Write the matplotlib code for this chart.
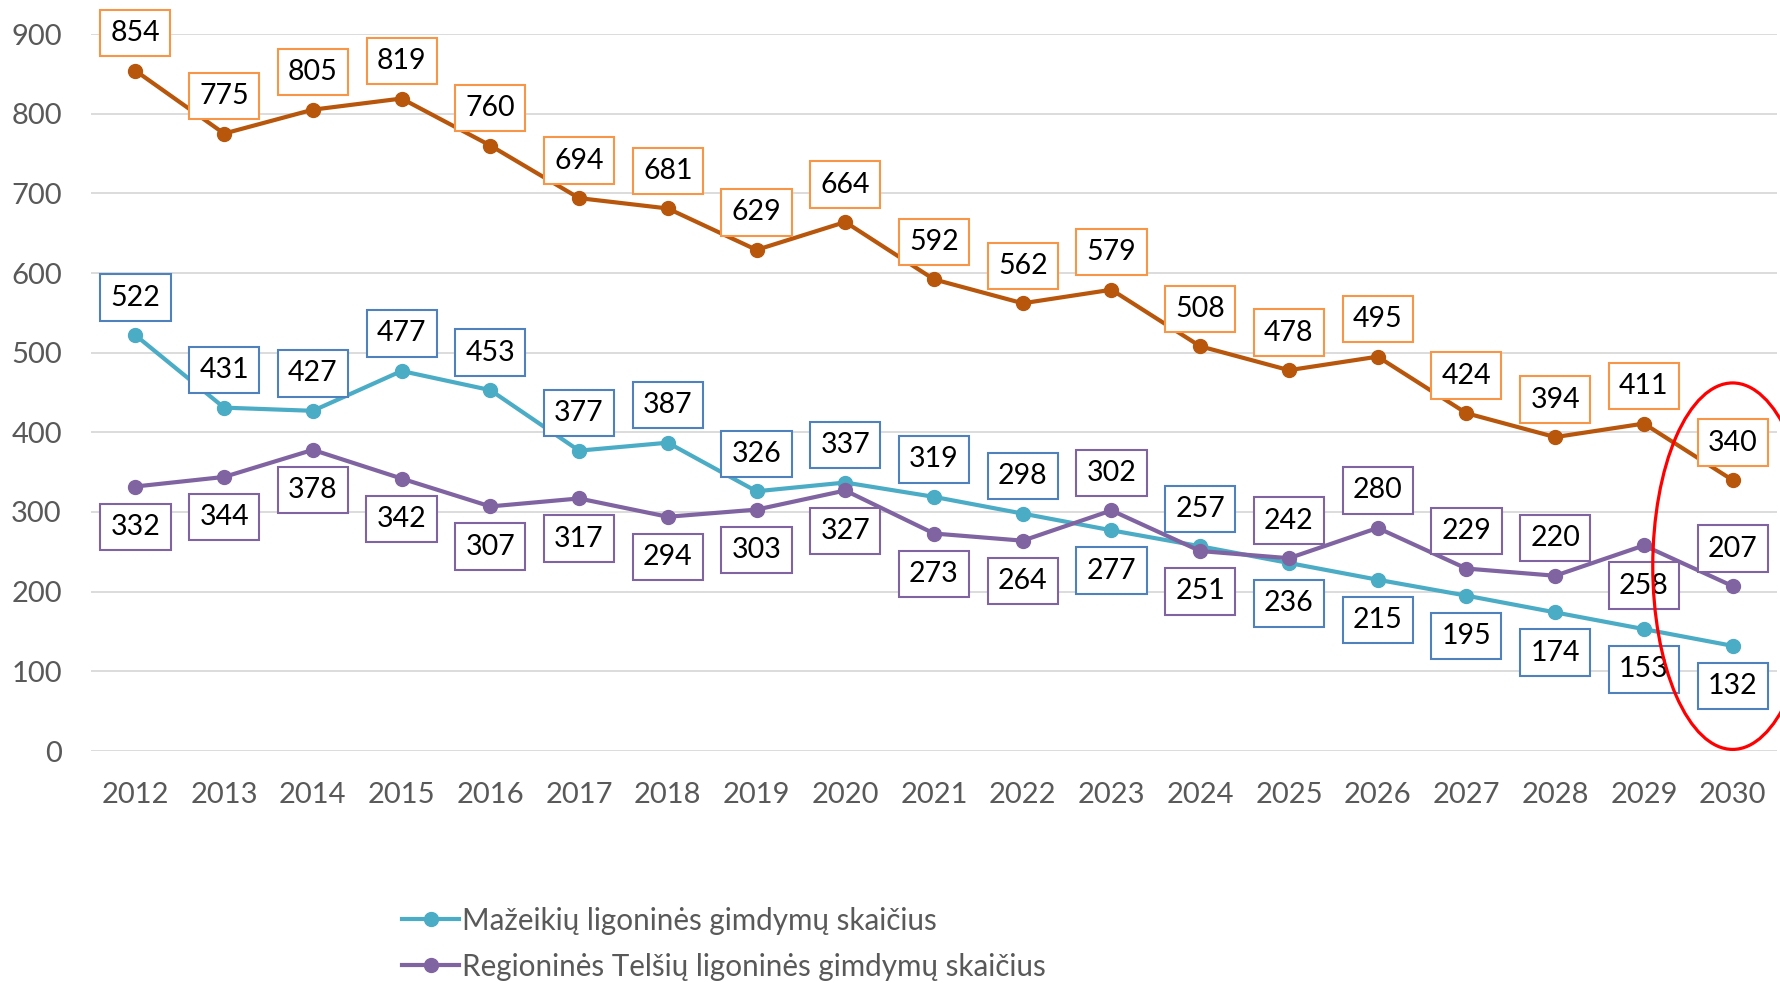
import matplotlib.pyplot as plt
from matplotlib.patches import Ellipse

plt.rcParams['font.family'] = ['Lato', 'DejaVu Sans']

years = [str(y) for y in range(2012, 2031)]
mazeikiai = [522, 431, 427, 477, 453, 377, 387, 326, 337, 319, 298, 277, 257, 236, 215, 195, 174, 153, 132]
telsiai = [332, 344, 378, 342, 307, 317, 294, 303, 327, 273, 264, 302, 251, 242, 280, 229, 220, 258, 207]
bendras = [854, 775, 805, 819, 760, 694, 681, 629, 664, 592, 562, 579, 508, 478, 495, 424, 394, 411, 340]

# where the data label sits: 1 above the point, -1 below
maz_pos = [1]*11 + [-1, 1] + [-1]*6
tel_pos = [-1]*11 + [1, -1, 1, 1, 1, 1, -1, 1]
ben_pos = [1]*19

labels = ['Mažeikių ligoninės gimdymų skaičius',
          'Regioninės Telšių ligoninės gimdymų skaičius']

c_maz = '#4BACC6'
c_tel = '#8064A2'
c_ben = '#B8560C'
grey = '#595959'

fig = plt.figure(figsize=(17.81, 9.83), dpi=100)
ax = fig.add_axes([91/1781, 1-751/983, 1-95/1781, (751-34)/983])

x = list(range(len(years)))
ax.plot(x, mazeikiai, color=c_maz, lw=3, marker='o', ms=10, label=labels[0], zorder=3)
ax.plot(x, telsiai, color=c_tel, lw=3, marker='o', ms=10, label=labels[1], zorder=3)
ax.plot(x, bendras, color=c_ben, lw=3, marker='o', ms=10, zorder=3)

def add_labels(vals, pos, edge):
    for i, v in enumerate(vals):
        off = 27 if pos[i] > 0 else -29
        ax.annotate(str(v), (i, v), xytext=(0, off), textcoords='offset points',
                    ha='center', va='center', fontsize=20.5, color='black', zorder=5,
                    annotation_clip=False,
                    bbox=dict(boxstyle='square,pad=0.36', fc='white', ec=edge, lw=1.5))

add_labels(bendras, ben_pos, '#F79646')
add_labels(mazeikiai, maz_pos, '#4F81BD')
add_labels(telsiai, tel_pos, '#8064A2')

ax.add_patch(Ellipse((18, 232), width=1.8, height=460, fill=False, ec='#FF0000',
                     lw=2.3, clip_on=False, zorder=6))

ax.set_xlim(-0.5, 18.5)
ax.set_ylim(0, 900)
ax.set_yticks(range(0, 901, 100))
ax.set_xticks(x)
ax.set_xticklabels(years)
ax.tick_params(length=0, labelsize=21, labelcolor=grey)
ax.tick_params(axis='y', pad=21)
ax.tick_params(axis='x', pad=22)
ax.grid(axis='y', color='#D9D9D9', lw=1.3)
ax.set_axisbelow(True)
for s in ax.spines.values():
    s.set_visible(False)

fig.legend(loc='upper left', bbox_to_anchor=(387/1781, 1-892/983), frameon=False,
           fontsize=21.3, labelcolor=grey, handlelength=1.95, handletextpad=0.1,
           labelspacing=0.6, borderpad=0)

fig.savefig('out.png', dpi=100)
